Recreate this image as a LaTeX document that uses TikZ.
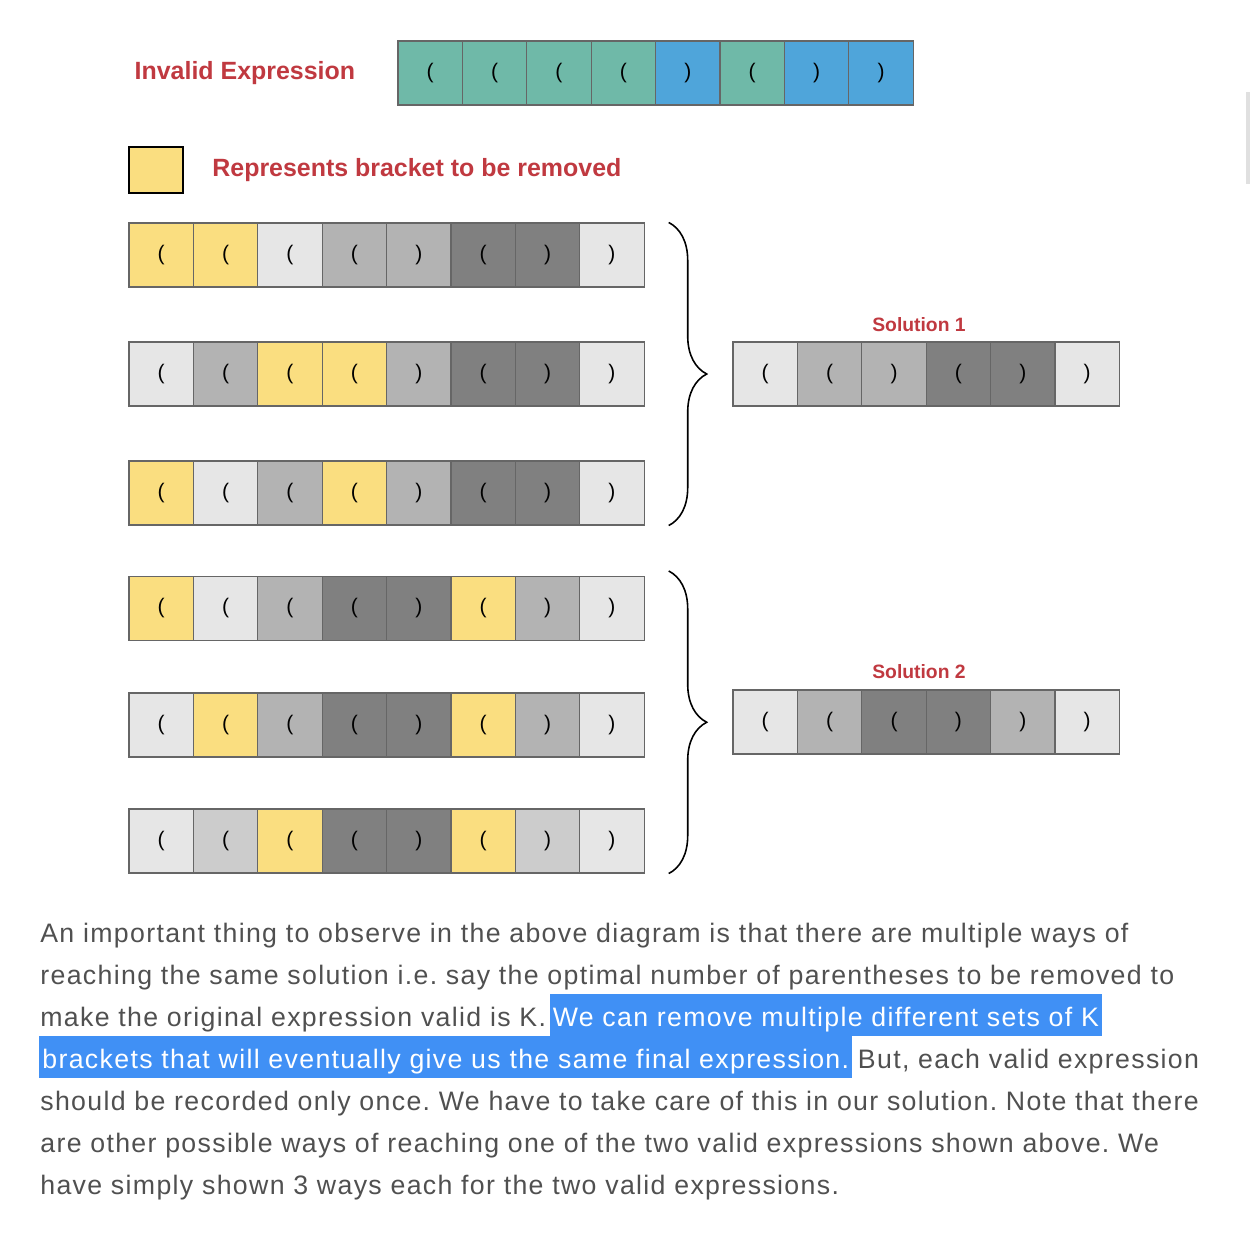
\documentclass[tikz,border=0pt]{standalone}
\usepackage{fontspec}
\setmainfont{Liberation Sans}
\newfontfamily\parafont[LetterSpace=5]{Liberation Sans}
\usetikzlibrary{positioning, decorations.pathreplacing}

\definecolor{cT}{RGB}{111,185,168}
\definecolor{cB}{RGB}{79,165,218}
\definecolor{cY}{RGB}{250,222,128}
\definecolor{cL}{RGB}{230,230,230}
\definecolor{cC}{RGB}{204,204,204}
\definecolor{cM}{RGB}{179,179,179}
\definecolor{cD}{RGB}{128,128,128}
\definecolor{labelred}{RGB}{192,57,64}
\definecolor{textgray}{RGB}{80,80,80}
\definecolor{hlblue}{RGB}{64,144,245}

% brackets of the expressions
\newcommand\brk[1]{\ifcase#1\or(\or(\or(\or(\or)\or(\or)\or)\fi}
\newcommand\brkA[1]{\ifcase#1\or(\or(\or)\or(\or)\or)\fi}
\newcommand\brkB[1]{\ifcase#1\or(\or(\or(\or)\or)\or)\fi}

\tikzset{
  cell/.style={draw=black!60, line width=0.6pt, minimum width=1.288cm, minimum height=1.28cm,
    inner sep=0, font=\fontsize{12}{13}\selectfont},
  title/.style={text=labelred, inner sep=0, font=\bfseries\fontsize{14.2}{16}\selectfont},
  sollabel/.style={text=labelred, inner sep=0, font=\bfseries\fontsize{11}{13}\selectfont},
  para/.style={text=textgray, inner sep=0, anchor=base west,
    font=\parafont\frenchspacing\fontsize{15.2}{18}\selectfont},
  marked/.style={para, fill=hlblue, text=white, inner xsep=0.06cm, inner ysep=0,
    text height=0.64cm, text depth=0.2cm},
  curly/.style={decorate, decoration={brace, amplitude=0.76cm}, line width=0.9pt}
}

\begin{document}
\begin{tikzpicture}[x=0.02cm, y=-0.02cm]
\useasboundingbox (0,0) rectangle (1250,1234);

% invalid expression
\foreach \c [count=\i] in {T,T,T,T,B,T,B,B}
  \node[cell, fill=c\c] (t\i) at ({398+64.4*(\i-0.5)},73) {\brk{\i}};
\node[title, left=0.84cm of t1] (inv) {Invalid Expression};

% legend
\node[draw=black, line width=1.2pt, fill=cY, minimum width=1.08cm, minimum height=0.92cm] (key) at (156,170) {};
\node[title, right=0.56cm of key] (keytext) {Represents bracket to be removed};

% ways to reach solution 1
\foreach \c [count=\i] in {Y,Y,L,M,M,D,D,L}
  \node[cell, fill=c\c] (a\i) at ({129+64.4*(\i-0.5)},255) {\brk{\i}};
\foreach \c [count=\i] in {L,M,Y,Y,M,D,D,L}
  \node[cell, fill=c\c] (b\i) at ({129+64.4*(\i-0.5)},374) {\brk{\i}};
\foreach \c [count=\i] in {Y,L,M,Y,M,D,D,L}
  \node[cell, fill=c\c] (c\i) at ({129+64.4*(\i-0.5)},493) {\brk{\i}};

% ways to reach solution 2
\foreach \c [count=\i] in {Y,L,M,D,D,Y,M,L}
  \node[cell, fill=c\c] (d\i) at ({129+64.4*(\i-0.5)},608.5) {\brk{\i}};
\foreach \c [count=\i] in {L,Y,M,D,D,Y,M,L}
  \node[cell, fill=c\c] (e\i) at ({129+64.4*(\i-0.5)},725) {\brk{\i}};
\foreach \c [count=\i] in {L,C,Y,D,D,Y,C,L}
  \node[cell, fill=c\c] (f\i) at ({129+64.4*(\i-0.5)},841) {\brk{\i}};

% solutions
\foreach \c [count=\i] in {L,M,M,D,D,L}
  \node[cell, fill=c\c] (s\i) at ({733+64.4*(\i-0.5)},374) {\brkA{\i}};
\foreach \c [count=\i] in {L,M,D,D,M,L}
  \node[cell, fill=c\c] (u\i) at ({733+64.4*(\i-0.5)},722) {\brkB{\i}};
\node[sollabel] (sol1) at (919,325) {Solution 1};
\node[sollabel] (sol2) at (919,672) {Solution 2};

\draw[curly] ([xshift=0.48cm]a8.north east) -- ([xshift=0.48cm]c8.south east);
\draw[curly] ([xshift=0.48cm, yshift=0.1cm]d8.north east) -- ([xshift=0.48cm]f8.south east);

% paragraph
\node[para] (p1) at (40,942) {An important thing to observe in the above diagram is that there are multiple ways of};
\node[para] (p2) at (40,984) {reaching the same solution i.e. say the optimal number of parentheses to be removed to};
\node[para] (p3) at (40,1026) {make the original expression valid is K.};
\node[marked] (p3b) at ([xshift=0.06cm]p3.base east) {We can remove multiple different sets of K};
\node[marked] (p4) at (39,1068) {brackets that will eventually give us the same final expression.};
\node[para] (p4b) at ([xshift=0.1cm]p4.base east) {But, each valid expression};
\node[para] (p5) at (40,1110) {should be recorded only once. We have to take care of this in our solution. Note that there};
\node[para] (p6) at (40,1152) {are other possible ways of reaching one of the two valid expressions shown above. We};
\node[para] (p7) at (40,1194) {have simply shown 3 ways each for the two valid expressions.};

% scroll bar
\fill[black!12] (1246,92) rectangle (1250,184);
\end{tikzpicture}
\end{document}
